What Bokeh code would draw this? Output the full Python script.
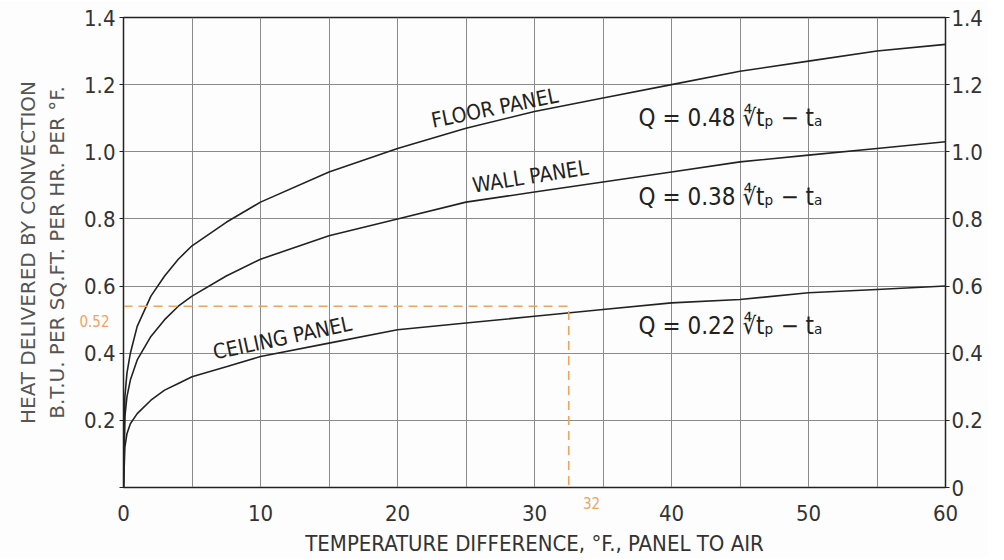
import math
from bokeh.plotting import figure
from bokeh.models import FixedTicker, LinearAxis, Label, Range1d, ColumnDataSource
from bokeh.embed import file_html
from bokeh.resources import INLINE

# ---- data ----
temp = [0, 0.1, 0.25, 0.5, 1, 2, 3, 4, 5, 7.5, 10, 15, 20, 25, 30, 35, 40, 45, 50, 55, 60]
floor_q = [0, 0.27, 0.34, 0.40, 0.48, 0.57, 0.63, 0.68, 0.72, 0.79, 0.85, 0.94, 1.01, 1.07, 1.12, 1.16, 1.20, 1.24, 1.27, 1.30, 1.32]
wall_q = [0, 0.21, 0.27, 0.32, 0.38, 0.45, 0.50, 0.54, 0.57, 0.63, 0.68, 0.75, 0.80, 0.85, 0.88, 0.91, 0.94, 0.97, 0.99, 1.01, 1.03]
ceiling_q = [0, 0.12, 0.16, 0.19, 0.22, 0.26, 0.29, 0.31, 0.33, 0.36, 0.39, 0.43, 0.47, 0.49, 0.51, 0.53, 0.55, 0.56, 0.58, 0.59, 0.60]
example_t = [0, 32.5, 32.5]
example_q = [0.54, 0.54, 0]
example_q_label = "0.52"
example_t_label = "32"
x_ticks = [0, 10, 20, 30, 40, 50, 60]
x_grid = [0, 5, 10, 15, 20, 25, 30, 35, 40, 45, 50, 55, 60]
y_ticks = [0, 0.2, 0.4, 0.6, 0.8, 1.0, 1.2, 1.4]
y_labels = ["0", "0.2", "0.4", "0.6", "0.8", "1.0", "1.2", "1.4"]

FONT = "DejaVu Sans Condensed"
INK = "#222222"
GRID = "#8a8a8a"
ORANGE = "#f0a35e"

p = figure(width=1005, height=558, output_backend="svg", toolbar_location=None,
           x_range=Range1d(0, 60), y_range=Range1d(0, 1.4),
           min_border_left=123, min_border_right=43, min_border_top=17, min_border_bottom=69,
           background_fill_color="#fdfdfd", border_fill_color="#fdfdfd",
           margin=(0, 0, 0, -17))
p.outline_line_color = INK
p.outline_line_width = 1.5

p.xgrid.ticker = FixedTicker(ticks=x_grid)
p.ygrid.ticker = FixedTicker(ticks=y_ticks)
for g in (p.xgrid, p.ygrid):
    g.grid_line_color = GRID
    g.grid_line_width = 1

xa = p.xaxis[0]
xa.ticker = FixedTicker(ticks=x_ticks)
xa.axis_label = "TEMPERATURE DIFFERENCE, °F., PANEL TO AIR"
xa.axis_label_text_font = FONT
xa.axis_label_text_font_size = "22px"
xa.axis_label_text_font_style = "normal"
xa.axis_label_text_color = "#333333"
xa.axis_label_standoff = 7
xa.major_label_text_font = FONT
xa.major_label_text_font_size = "22px"
xa.major_label_text_color = "#333333"
xa.major_tick_line_color = None
xa.minor_tick_line_color = None
xa.axis_line_color = INK
xa.major_label_standoff = 11

ya = p.yaxis[0]
ya.ticker = FixedTicker(ticks=y_ticks)
ya.major_label_overrides = {0: "", **{t: l for t, l in zip(y_ticks[1:], y_labels[1:])}}
ya.axis_label = "HEAT DELIVERED BY CONVECTION\nB.T.U. PER SQ.FT. PER HR. PER °F."
ya.axis_label_text_font = "DejaVu Sans"
ya.axis_label_text_font_size = "20px"
ya.axis_label_text_font_style = "normal"
ya.axis_label_text_color = "#555555"
ya.axis_label_standoff = 12
ya.major_label_text_font = FONT
ya.major_label_text_font_size = "22px"
ya.major_label_text_color = "#333333"
ya.major_tick_line_color = INK
ya.major_tick_out = 4
ya.major_tick_in = 0
ya.minor_tick_line_color = None
ya.axis_line_color = INK
ya.major_label_standoff = 4

ra = LinearAxis(ticker=FixedTicker(ticks=y_ticks),
                major_label_overrides={t: l for t, l in zip(y_ticks, y_labels)})
ra.major_label_text_font = FONT
ra.major_label_text_font_size = "22px"
ra.major_label_text_color = "#333333"
ra.major_tick_line_color = INK
ra.major_tick_out = 4
ra.major_tick_in = 0
ra.minor_tick_line_color = None
ra.axis_line_color = INK
ra.major_label_standoff = 2
p.add_layout(ra, "right")

src = ColumnDataSource(dict(t=temp, fl=floor_q, wa=wall_q, ce=ceiling_q))
for col in ("fl", "wa", "ce"):
    p.line("t", col, source=src, line_color=INK, line_width=1.6)

p.line(example_t, example_q, line_color=ORANGE, line_width=1.6, line_dash="9 6")

def curve_label(text, x, y, angle_deg, size):
    p.add_layout(Label(x=x, y=y, text=text, angle=math.radians(angle_deg),
                       text_font=FONT, text_font_size=size, text_color=INK,
                       text_align="center", text_baseline="middle"))

curve_label("FLOOR PANEL", 27.1, 1.13, 11.5, "21px")
curve_label("WALL PANEL", 29.7, 0.926, 9, "21px")
curve_label("CEILING PANEL", 11.6, 0.445, 12, "21px")

for txt, yv in (("Q = 0.48 ∜tₚ − tₐ", 1.10), ("Q = 0.38 ∜tₚ − tₐ", 0.865), ("Q = 0.22 ∜tₚ − tₐ", 0.48)):
    p.add_layout(Label(x=37.6, y=yv, text=txt, text_font=FONT, text_font_size="24px",
                       text_color=INK, text_align="left", text_baseline="middle"))

# orange example annotations placed in side panels (outside the frame)
p.add_layout(Label(x=126, y=167, x_units="screen", y_units="screen", text=example_q_label,
                   text_color=ORANGE, text_font=FONT, text_font_size="15px",
                   text_align="right", text_baseline="middle"), "left")
p.add_layout(Label(x=468, y=-485, x_units="screen", y_units="screen", text=example_t_label,
                   text_color=ORANGE, text_font=FONT, text_font_size="15px",
                   text_align="center", text_baseline="middle"), "above")

open("out.html", "w").write(file_html(p, INLINE))
